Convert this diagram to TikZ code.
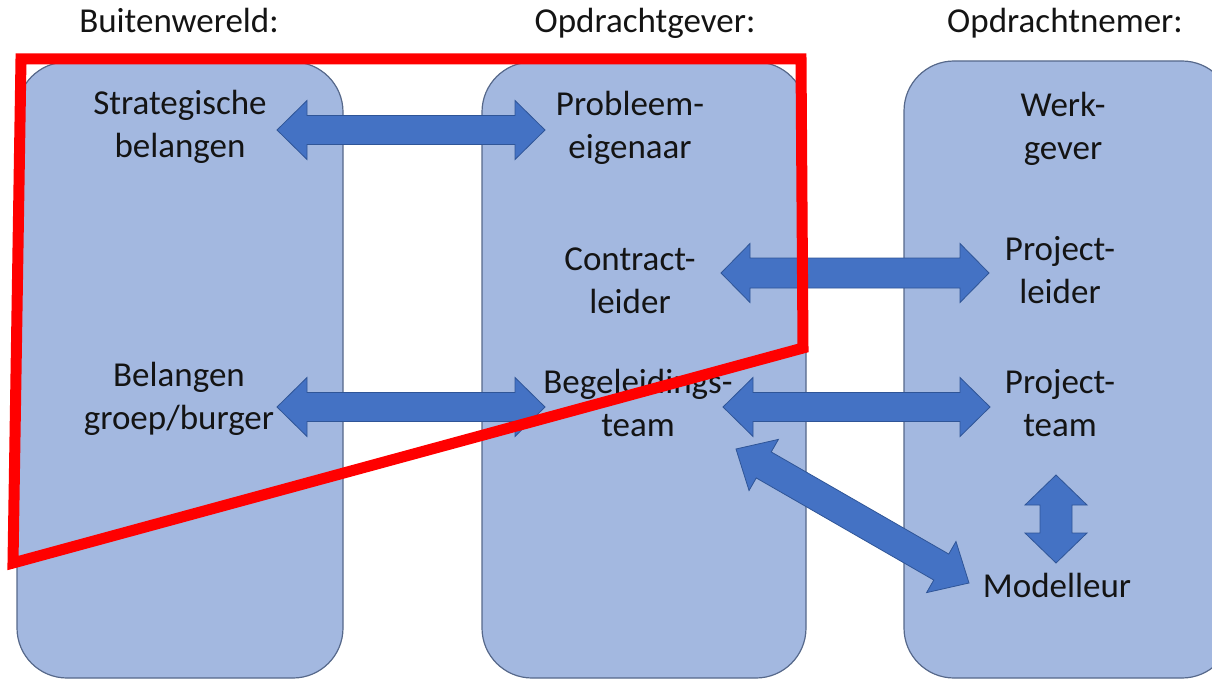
\documentclass[tikz,border=0pt]{standalone}
\usepackage{fontspec}
\setmainfont{Carlito}
\usetikzlibrary{calc}

\definecolor{panelfill}{HTML}{A3B8E0}
\definecolor{paneledge}{HTML}{56688A}
\definecolor{arrowfill}{HTML}{4472C4}
\definecolor{arrowedge}{HTML}{2F5597}
\definecolor{ink}{HTML}{141414}
\definecolor{marker}{HTML}{FF0000}

\tikzset{
  panel/.style={fill=panelfill, draw=paneledge, line width=1.2pt, rounded corners=50pt},
  lbl/.style={font=\fontsize{35}{43}\selectfont, text=ink, align=center, inner sep=0pt, anchor=base},
  blockarrow/.style={fill=arrowfill, draw=arrowedge, line width=0.8pt, line join=miter},
  outline/.style={draw=marker, line width=11pt, line join=miter}
}

% double-headed block arrow between two tips:
% #1,#2 tips; #3 half head width; #4 half shaft width; #5 head length
\newcommand\dblarrow[5]{%
  \coordinate (ha) at ($(#1)!#5!(#2)$);
  \coordinate (hb) at ($(#2)!#5!(#1)$);
  \draw[blockarrow] (#1)
    -- ($(ha)!#3!90:(#2)$) -- ($(ha)!#4!90:(#2)$)
    -- ($(hb)!#4!-90:(#1)$) -- ($(hb)!#3!-90:(#1)$)
    -- (#2)
    -- ($(hb)!#3!90:(#1)$) -- ($(hb)!#4!90:(#1)$)
    -- ($(ha)!#4!-90:(#2)$) -- ($(ha)!#3!-90:(#2)$)
    -- cycle;
}

\begin{document}
\begin{tikzpicture}[x=1pt, y=-1pt]
  \useasboundingbox (0,0) rectangle (1212,679);
  \clip (0,0) rectangle (1212,679);

  % column headers
  \node[lbl] (hBuiten) at (179,33) {Buitenwereld:};
  \node[lbl] (hGever)  at (645,33) {Opdrachtgever:};
  \node[lbl] (hNemer)  at (1065,33) {Opdrachtnemer:};

  % the three columns
  \draw[panel] (17,62)  rectangle (343,678);
  \draw[panel] (482,62) rectangle (806,678);
  \draw[panel] (904,61) rectangle (1232,678);

  % roles (positioned on the baseline of the last line)
  \node[lbl] (strat)   at (180,158)  {Strategische\\belangen};
  \node[lbl] (belang)  at (179,429)  {Belangen\\groep/burger};
  \node[lbl] (probl)   at (630,159)  {Probleem-\\eigenaar};
  \node[lbl] (contr)   at (630,313)  {Contract-\\leider};
  \node[lbl] (begel)   at (638,436)  {Begeleidings-\\team};
  \node[lbl] (werk)    at (1063,160) {Werk-\\gever};
  \node[lbl] (pleider) at (1060,303) {Project-\\leider};
  \node[lbl] (pteam)   at (1060,436) {Project-\\team};
  \node[lbl] (model)   at (1057,597) {Modelleur};

  % arrow tips
  \coordinate (a1) at (277,130);  \coordinate (b1) at (545,130);
  \coordinate (a2) at (721,273);  \coordinate (b2) at (989,273);
  \coordinate (a3) at (277,407);  \coordinate (b3) at (545,407);
  \coordinate (a4) at (723,407);  \coordinate (b4) at (990,407);
  \coordinate (a5) at (736,449);  \coordinate (b5) at (969,583);
  \coordinate (a6) at (1056,475); \coordinate (b6) at (1056,563);

  \dblarrow{a1}{b1}{29.5pt}{14.5pt}{30pt}
  \dblarrow{a2}{b2}{29.5pt}{15pt}{29pt}
  \dblarrow{a3}{b3}{29.5pt}{14.5pt}{30pt}
  \dblarrow{a4}{b4}{29.5pt}{14.5pt}{30pt}
  \dblarrow{a5}{b5}{29.5pt}{15pt}{32pt}
  \dblarrow{a6}{b6}{31pt}{16pt}{30pt}

  % red outline
  \draw[outline] (21,59) -- (801,59) -- (803,348) -- (13,563) -- cycle;
\end{tikzpicture}
\end{document}
